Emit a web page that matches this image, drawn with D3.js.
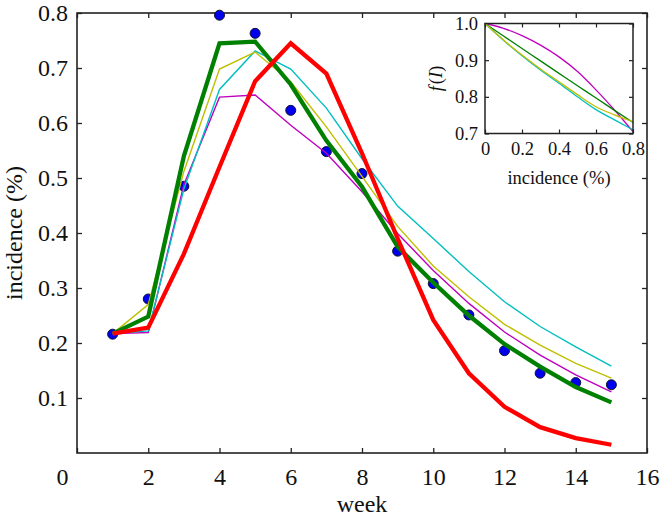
<!DOCTYPE html>
<html><head><meta charset="utf-8">
<script src="https://cdn.jsdelivr.net/npm/d3@7"></script>
<style>
html,body{margin:0;padding:0;background:#fff;}
</style></head>
<body>
<svg id="chart" width="660" height="517"></svg>
<script>
// ---- data ----
const weeks = [1,2,3,4,5,6,7,8,9,10,11,12,13,14,15];
const observed = [0.216,0.280,0.485,0.796,0.763,0.623,0.548,0.508,0.367,0.308,0.251,0.186,0.145,0.128,0.124];
const modelGreen = [0.217,0.248,0.540,0.745,0.748,0.670,0.568,0.484,0.375,0.310,0.250,0.198,0.157,0.120,0.092];
const modelRed = [0.217,0.228,0.362,0.520,0.676,0.745,0.690,0.545,0.390,0.242,0.145,0.084,0.047,0.027,0.015];
const modelYellow = [0.217,0.270,0.512,0.698,0.729,0.675,0.593,0.503,0.412,0.340,0.284,0.234,0.196,0.163,0.136];
const modelCyan = [0.217,0.222,0.480,0.661,0.731,0.698,0.627,0.535,0.449,0.390,0.330,0.275,0.230,0.193,0.158];
const modelMagenta = [0.217,0.219,0.488,0.647,0.651,0.596,0.545,0.475,0.399,0.332,0.272,0.220,0.178,0.142,0.111];
const xTicks = [0,2,4,6,8,10,12,14,16];
const yTicks = [0.1,0.2,0.3,0.4,0.5,0.6,0.7,0.8];

// inset: f(I)
const insetI = [0,0.1,0.2,0.3,0.4,0.5,0.6,0.7,0.8];
const fMagenta = [1.0,0.987,0.967,0.941,0.909,0.869,0.819,0.764,0.705];
const fGreen = [1.0,0.966,0.932,0.898,0.864,0.830,0.797,0.763,0.730];
const fYellow = [1.0,0.955,0.914,0.876,0.841,0.806,0.773,0.751,0.732];
const fCyan = [1.0,0.954,0.912,0.873,0.837,0.800,0.765,0.737,0.710];
const insetXTicks = [0,0.2,0.4,0.6,0.8];
const insetYTicks = [0.7,0.8,0.9,1.0];

const FONT = "'Liberation Serif', 'Times New Roman', serif";
const svg = d3.select("#chart");
const L=77, R=647, T=13, B=453;
const x = d3.scaleLinear().domain([0,16]).range([L,R]);
const y = d3.scaleLinear().domain([0,0.8]).range([B,T]);

const fmt1 = d3.format(".1f");
svg.append("g").attr("transform",`translate(0,${B})`)
  .call(d3.axisBottom(x).tickValues(xTicks).tickSizeInner(-5).tickSizeOuter(0).tickPadding(15).tickFormat(d3.format("d")))
  .call(g=>{g.select(".domain").remove(); g.selectAll("text").attr("font-size",24).attr("dy","0.71em").attr("dx",d=>d===0?-15:0);});
svg.append("g").attr("transform",`translate(0,${T})`)
  .call(d3.axisTop(x).tickValues(xTicks).tickSizeInner(-5).tickSizeOuter(0).tickFormat(""))
  .call(g=>g.select(".domain").remove());
svg.append("g").attr("transform",`translate(${L},0)`)
  .call(d3.axisLeft(y).tickValues(yTicks).tickSizeInner(-5).tickSizeOuter(0).tickPadding(9).tickFormat(fmt1))
  .call(g=>{g.select(".domain").remove(); g.selectAll("text").attr("font-size",24);});
svg.append("g").attr("transform",`translate(${R},0)`)
  .call(d3.axisRight(y).tickValues(yTicks).tickSizeInner(-5).tickSizeOuter(0).tickFormat(""))
  .call(g=>g.select(".domain").remove());
svg.selectAll(".tick line").attr("stroke","#222").attr("stroke-width",1.3);
svg.append("rect").attr("x",L).attr("y",T).attr("width",R-L).attr("height",B-T)
  .attr("fill","none").attr("stroke","#222").attr("stroke-width",1.6);

svg.append("text").attr("x",(L+R)/2).attr("y",512).attr("text-anchor","middle").attr("font-size",24).text("week");
svg.append("text").attr("transform",`translate(22,${(T+B)/2}) rotate(-90)`).attr("text-anchor","middle").attr("font-size",24).text("incidence (%)");

const line = d3.line().x((d,i)=>x(weeks[i])).y(d=>y(d));
const plot = svg.append("g");
plot.selectAll("circle.obs").data(observed).join("circle").attr("class","obs")
  .attr("cx",(d,i)=>x(weeks[i])).attr("cy",d=>y(d)).attr("r",5)
  .attr("fill","#0000ee").attr("stroke","#111133").attr("stroke-width",1);
const thin = [[modelMagenta,"#bf00bf"],[modelCyan,"#00bfbf"],[modelYellow,"#bfbf00"]];
thin.forEach(([s,c])=>plot.append("path").attr("d",line(s)).attr("fill","none").attr("stroke",c).attr("stroke-width",1.4));
plot.append("path").attr("d",line(modelGreen)).attr("fill","none").attr("stroke","#008000").attr("stroke-width",4.3);
plot.append("path").attr("d",line(modelRed)).attr("fill","none").attr("stroke","#ff0000").attr("stroke-width",4.3);

// inset
const iL=485, iR=633, iT=23.5, iB=133.5;
const ix = d3.scaleLinear().domain([0,0.8]).range([iL,iR]);
const iy = d3.scaleLinear().domain([0.7,1.0]).range([iB,iT]);
const inset = svg.append("g");
inset.append("rect").attr("x",iL).attr("y",iT).attr("width",iR-iL).attr("height",iB-iT).attr("fill","#fff");
inset.append("g").attr("transform",`translate(0,${iB})`)
  .call(d3.axisBottom(ix).tickValues(insetXTicks).tickSizeInner(-4).tickSizeOuter(0).tickPadding(8).tickFormat(d=>d===0?"0":fmt1(d)))
  .call(g=>{g.select(".domain").remove(); g.selectAll("text").attr("font-size",18.5).attr("dy","0.71em");});
inset.append("g").attr("transform",`translate(0,${iT})`)
  .call(d3.axisTop(ix).tickValues(insetXTicks).tickSizeInner(-4).tickSizeOuter(0).tickFormat(""))
  .call(g=>g.select(".domain").remove());
inset.append("g").attr("transform",`translate(${iL},0)`)
  .call(d3.axisLeft(iy).tickValues(insetYTicks).tickSizeInner(-4).tickSizeOuter(0).tickPadding(7).tickFormat(fmt1))
  .call(g=>{g.select(".domain").remove(); g.selectAll("text").attr("font-size",18.5);});
inset.append("g").attr("transform",`translate(${iR},0)`)
  .call(d3.axisRight(iy).tickValues(insetYTicks).tickSizeInner(-4).tickSizeOuter(0).tickFormat(""))
  .call(g=>g.select(".domain").remove());
inset.selectAll(".tick line").attr("stroke","#222").attr("stroke-width",1.2);
const iline = d3.line().x((d,i)=>ix(insetI[i])).y(d=>iy(d)).curve(d3.curveMonotoneX);
[[fMagenta,"#bf00bf"],[fGreen,"#008000"],[fCyan,"#00bfbf"],[fYellow,"#bfbf00"]].forEach(([s,c])=>
  inset.append("path").attr("d",iline(s)).attr("fill","none").attr("stroke",c).attr("stroke-width",1.3));
inset.append("rect").attr("x",iL).attr("y",iT).attr("width",iR-iL).attr("height",iB-iT)
  .attr("fill","none").attr("stroke","#222").attr("stroke-width",1.5);
inset.append("text").attr("x",(iL+iR)/2).attr("y",184).attr("text-anchor","middle").attr("font-size",18.5).text("incidence (%)");
const fl = inset.append("text").attr("transform",`translate(442,${(iT+iB)/2}) rotate(-90)`).attr("text-anchor","middle").attr("font-size",18.5);
fl.append("tspan").attr("font-style","italic").text("f");
fl.append("tspan").attr("dx",2).text("(");
fl.append("tspan").attr("font-style","italic").text("I");
fl.append("tspan").text(")");

svg.selectAll("g").attr("font-family", null);
svg.selectAll("text").attr("font-family", FONT).attr("fill","#111");
</script>
</body></html>
